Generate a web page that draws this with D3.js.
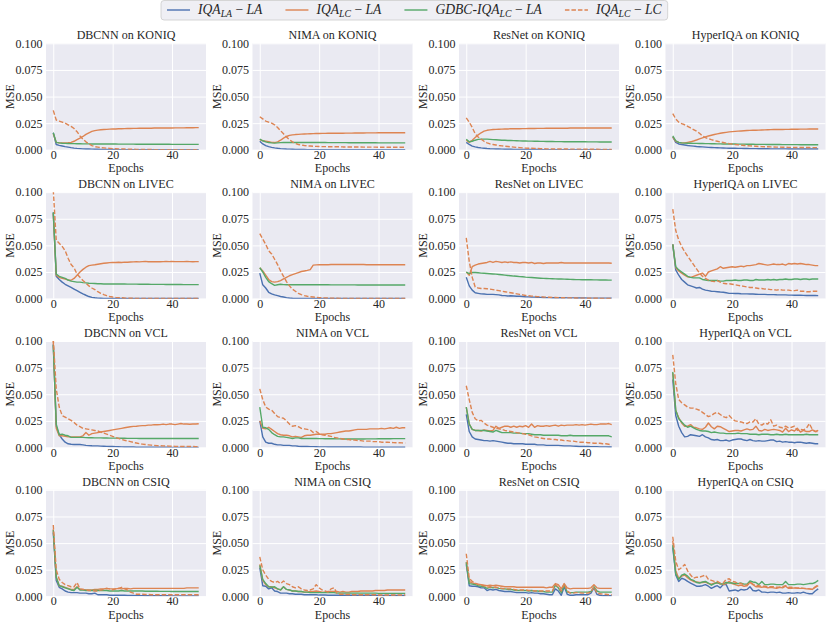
<!DOCTYPE html>
<html>
<head>
<meta charset="utf-8">
<script src="https://cdn.jsdelivr.net/npm/d3@7"></script>
<style>
    body { margin: 0; background: #fff; }
    svg text { font-family: "Liberation Serif", "DejaVu Serif", serif; fill: #262626; }
</style>
</head>
<body>
<svg id="chart" width="831" height="627"></svg>
<script>
// MSE values are kept in units of 1e-3, epochs 0..49
const MSE_UNIT = 0.001;

const models = ['DBCNN', 'NIMA', 'ResNet', 'HyperIQA'];
const datasets = ['KONIQ', 'LIVEC', 'VCL', 'CSIQ'];
const epochs = d3.range(50);
const xTicks = [0, 20, 40];
const yTicks = [0, 0.025, 0.05, 0.075, 0.1];

// ---- KONIQ
const dbcnn_koniq_la = [16,5,4.2,3.6,3,2.5,2,1.6,1.3,1.1, 0.9,0.8,0.7,0.6,0.5,0.45,0.4,0.35,0.3,0.3, 0.25,0.25,0.2,0.2,0.2,0.2,0.15,0.15,0.15,0.15, 0.1,0.1,0.1,0.1,0.1,0.1,0.1,0.1,0.1,0.1, 0.1,0.1,0.1,0.1,0.1,0.1,0.1,0.1,0.1,0.1];
const dbcnn_koniq_lc = [15,7,6.6,6.5,6.5,6.6,7,8,9.5,11, 12.5,14.5,16,17.3,18,18.5,18.8,19,19.2,19.4, 19.5,19.6,19.7,19.8,19.9,20,20,20.1,20.1,20.2, 20.2,20.3,20.3,20.3,20.4,20.4,20.4,20.5,20.5,20.5, 20.5,20.6,20.6,20.6,20.6,20.7,20.7,20.7,20.8,20.8];
const dbcnn_koniq_gd = [16,7,6.5,6.2,6,5.9,5.8,5.8,5.7,5.7, 5.6,5.6,5.6,5.5,5.5,5.5,5.5,5.4,5.4,5.4, 5.4,5.4,5.3,5.3,5.3,5.3,5.3,5.3,5.2,5.2, 5.2,5.2,5.2,5.2,5.2,5.2,5.2,5.2,5.2,5.2, 5.1,5.1,5.1,5.1,5.1,5.1,5.1,5.1,5.1,5.1];
const dbcnn_koniq_lclc = [37,28,27,26,25,23.5,22,20,17,13, 10,7.5,5.5,4,3,2.5,2,1.8,1.5,1.3, 1.1,1,0.9,0.8,0.7,0.6,0.5,0.5,0.4,0.4, 0.3,0.3,0.3,0.3,0.2,0.2,0.2,0.2,0.2,0.2, 0.1,0.1,0.1,0.1,0.1,0.1,0.1,0.1,0.1,0.1];

const nima_koniq_la = [8,5.5,4,3,2.3,1.8,1.4,1.1,0.9,0.7, 0.6,0.5,0.4,0.35,0.3,0.25,0.2,0.2,0.2,0.15, 0.15,0.15,0.1,0.1,0.1,0.1,0.1,0.1,0.1,0.1, 0.1,0.1,0.1,0.1,0.1,0.1,0.1,0.1,0.1,0.1, 0.1,0.1,0.1,0.1,0.1,0.1,0.1,0.1,0.1,0.1];
const nima_koniq_lc = [9.5,8.5,8,7.5,7,6.8,7.5,9,11,12.5, 13.5,14,14.3,14.5,14.7,14.9,15,15.1,15.2,15.3, 15.3,15.4,15.4,15.5,15.5,15.5,15.6,15.6,15.6,15.7, 15.7,15.7,15.8,15.8,15.8,15.8,15.9,15.9,15.9,15.9, 16,16,16,16,16,16,16,16,16,16];
const nima_koniq_gd = [10,8.5,7.5,6.8,6.5,6.3,6.5,6.7,6.8,6.9, 6.9,6.9,6.9,6.9,6.9,6.8,6.8,6.8,6.8,6.8, 6.8,6.8,6.8,6.7,6.7,6.7,6.7,6.7,6.7,6.7, 6.6,6.6,6.6,6.6,6.6,6.6,6.6,6.6,6.6,6.6, 6.5,6.5,6.5,6.5,6.5,6.5,6.5,6.5,6.5,6.5];
const nima_koniq_lclc = [31,29,27,26,25,23.5,21,18,15,12, 9.5,7.5,6,5,4.5,4,3.7,3.5,3.3,3.2, 3.1,3,3,2.9,2.9,2.8,2.8,2.8,2.7,2.7, 2.7,2.6,2.6,2.6,2.6,2.5,2.5,2.5,2.5,2.5, 2.4,2.4,2.4,2.4,2.4,2.4,2.4,2.4,2.4,2.4];

const resnet_koniq_la = [7,5,3.5,2.8,2.2,1.8,1.5,1.2,1,0.9, 0.8,0.7,0.6,0.55,0.5,0.45,0.4,0.4,0.35,0.35, 0.3,0.3,0.3,0.25,0.25,0.25,0.2,0.2,0.2,0.2, 0.2,0.15,0.15,0.15,0.15,0.15,0.15,0.1,0.1,0.1, 0.1,0.1,0.1,0.1,0.1,0.1,0.1,0.1,0.1,0.1];
const resnet_koniq_lc = [9,7,9,11.5,14,16,17.5,18.3,18.7,19, 19.2,19.3,19.4,19.5,19.6,19.7,19.7,19.8,19.8,19.9, 19.9,20,20,20,20.1,20.1,20.1,20.2,20.2,20.2, 20.2,20.3,20.3,20.3,20.3,20.4,20.4,20.4,20.4,20.4, 20.5,20.5,20.5,20.5,20.5,20.5,20.5,20.5,20.5,20.5];
const resnet_koniq_gd = [10,7.5,8,9,9.8,10,10,10,9.8,9.6, 9.4,9.2,9,8.9,8.8,8.7,8.6,8.5,8.4,8.3, 8.2,8.1,8.1,8,8,7.9,7.9,7.8,7.8,7.8, 7.7,7.7,7.7,7.6,7.6,7.6,7.6,7.5,7.5,7.5, 7.5,7.4,7.4,7.4,7.4,7.3,7.3,7.3,7.3,7.3];
const resnet_koniq_lclc = [30,26,21,15,12,10,8,6.5,5.5,5, 4.5,4,3.7,3.4,3.1,2.8,2.5,2.2,2,1.8, 1.6,1.5,1.4,1.3,1.2,1.1,1,0.9,0.8,0.8, 0.7,0.7,0.7,0.7,0.7,0.6,0.6,0.6,0.6,0.6, 0.5,0.5,0.5,0.5,0.5,0.4,0.4,0.4,0.4,0.4];

const hyper_koniq_la = [12,7,5.5,5,4.5,4,3.7,3.4,3.1,2.9, 2.7,2.5,2.3,2.2,2,1.9,1.8,1.7,1.6,1.5, 1.4,1.4,1.3,1.3,1.2,1.2,1.1,1.1,1.1,1, 1,1,1,0.9,0.9,0.9,0.9,0.9,0.9,0.8, 0.8,0.8,0.8,0.8,0.8,0.8,0.8,0.8,0.8,0.8];
const hyper_koniq_lc = [12,8,7,6.5,6.5,7,7.5,8.3,9.2,10.2, 11.2,12.1,13,13.7,14.4,15,15.5,16,16.4,16.8, 17.1,17.3,17.5,17.7,17.9,18.1,18.2,18.3,18.4,18.5, 18.6,18.7,18.8,18.9,19,19,19.1,19.1,19.2,19.2, 19.3,19.3,19.3,19.4,19.4,19.4,19.5,19.5,19.5,19.5];
const hyper_koniq_gd = [13,8.5,7,6.5,6.3,6.2,6.1,6,6,5.9, 5.9,5.8,5.8,5.7,5.7,5.6,5.6,5.5,5.5,5.4, 5.4,5.4,5.3,5.3,5.3,5.2,5.2,5.2,5.1,5.1, 5.1,5.1,5,5,5,5,5,4.9,4.9,4.9, 4.9,4.9,4.9,4.8,4.8,4.8,4.8,4.8,4.8,4.8];
const hyper_koniq_lclc = [34,29,26,24.5,23.5,22,20.5,19,17.5,15.5, 13,11.5,10.5,9.5,8.7,8,7.3,6.8,6.3,5.8, 5.4,5,4.7,4.4,4.1,3.9,3.7,3.5,3.3,3.1, 3,2.9,2.8,2.7,2.6,2.5,2.5,2.4,2.4,2.3, 2.3,2.2,2.2,2.2,2.1,2.1,2.1,2,2,2];

// ---- LIVEC
const dbcnn_livec_la = [81,21,18,15.5,13.5,12,10.5,9,7.5,6, 4.5,3.2,2,1.2,0.8,0.5,0.4,0.3,0.3,0.2, 0.2,0.2,0.2,0.15,0.15,0.15,0.15,0.1,0.1,0.1, 0.1,0.1,0.1,0.1,0.1,0.1,0.1,0.1,0.1,0.1, 0.1,0.1,0.1,0.1,0.1,0.1,0.1,0.1,0.1,0.1];
const dbcnn_livec_lc = [80,22,20,19,18.5,17.5,17.3,19,22,25, 27.5,29.5,31,31.5,31.8,32.3,32.8,33.2,33.5,33.8, 34,34,34.2,34,34.3,34.2,34.4,34.5,34.8,34.5, 34.8,35,34.7,34.8,34.6,34.8,34.7,34.8,34.9,34.8, 34.9,34.8,34.8,34.8,34.8,34.9,34.8,34.7,34.8,34.8];
const dbcnn_livec_gd = [81,23,21,20,19,17.5,16.5,16,15.5,15.5, 15,14.8,14.5,14.3,14.2,14,14,13.8,13.9,13.8, 13.8,13.8,13.7,13.7,13.7,13.6,13.6,13.6,13.6,13.5, 13.5,13.5,13.5,13.4,13.4,13.4,13.4,13.4,13.3,13.3, 13.3,13.3,13.3,13.3,13.2,13.2,13.2,13.2,13.2,13.2];
const dbcnn_livec_lclc = [102,55,52,49,45,38,32,29,23,20, 17,14.5,12,10,8.5,6.5,5,3.8,2.8,2, 1.5,1.2,1,0.8,0.6,0.5,0.4,0.3,0.3,0.2, 0.2,0.2,0.2,0.2,0.2,0.15,0.15,0.15,0.15,0.15, 0.1,0.1,0.1,0.1,0.1,0.1,0.1,0.1,0.1,0.1];

const nima_livec_la = [24,13,10,6,4.5,3.5,2.8,2,1.5,1, 0.6,0.4,0.3,0.2,0.2,0.15,0.15,0.1,0.1,0.1, 0.1,0.1,0.1,0.1,0.1,0.1,0.1,0.1,0.1,0.1, 0.1,0.1,0.1,0.1,0.1,0.1,0.1,0.1,0.1,0.1, 0.1,0.1,0.1,0.1,0.1,0.1,0.1,0.1,0.1,0.1];
const nima_livec_lc = [29,26,22,18,16,15.5,16,17,18.5,20, 21.5,22.5,23.5,24.5,25.5,26,26.5,27.3,31.5,31.7, 31.8,31.8,31.9,31.9,32,32,32,32,32.1,32.1, 32.1,32.1,32,32,32,32,31.9,31.9,31.9,31.9, 31.9,31.8,31.8,31.8,31.8,31.8,31.8,31.8,31.8,31.8];
const nima_livec_gd = [29,25,20,16,14,12.5,13,13.5,13.2,13, 13,13,13,13,13,13,13,13,13,13, 13,13,13,13,12.9,12.9,12.9,12.9,12.9,12.9, 12.9,12.9,12.9,12.8,12.8,12.8,12.8,12.8,12.8,12.8, 12.8,12.8,12.8,12.8,12.8,12.8,12.8,12.8,12.8,12.8];
const nima_livec_lclc = [61,56,51,45,42,37,32,26,21,16, 12,9,7,5,3.8,2.8,2.2,1.8,1.5,1.2, 1,0.8,0.7,0.6,0.5,0.4,0.4,0.3,0.3,0.3, 0.2,0.2,0.2,0.2,0.2,0.2,0.2,0.2,0.2,0.2, 0.1,0.1,0.1,0.1,0.1,0.1,0.1,0.1,0.1,0.1];

const resnet_livec_la = [20,12,8,5.5,5,4.5,4.3,4,4,4, 3.8,3.5,3,2.8,2.5,2.7,2.5,2.3,2.2,2, 1.8,1.7,1.5,1.4,1.3,1.2,1.1,1,1,0.9, 0.9,0.8,0.8,0.8,0.7,0.7,0.7,0.6,0.6,0.6, 0.6,0.5,0.5,0.5,0.5,0.5,0.5,0.5,0.5,0.5];
const resnet_livec_lc = [25,22,30,31.5,32.5,33,33.5,34,35,34, 35,34.5,34,34.5,34,34.5,34,34,33.5,34, 34,33.5,34,33,33.5,33.5,33,33.5,33.5,33.5, 33.5,33.5,34,33.5,33.5,33.5,33.5,33.5,33.5,33.5, 33.5,33.5,33.5,33.5,33.5,33.5,33.5,33.5,33.5,33.3];
const resnet_livec_gd = [25,23.5,24.5,24.5,24.3,24,23.8,23.6,23.4,23.2, 23,22.7,22.4,22.1,21.8,21.5,21.2,21,20.7,20.5, 20.2,20,19.8,19.6,19.4,19.2,19,18.9,18.8,18.7, 18.6,18.5,18.4,18.3,18.2,18.1,18,17.9,17.9,17.8, 17.8,17.7,17.7,17.6,17.6,17.5,17.5,17.5,17.4,17.4];
const resnet_livec_lclc = [57,35,20,11,10,9.5,9.5,9.3,9,8.5, 8,7.5,7,6.5,6,5.5,5,4.5,4,3.5, 3,2.7,2.4,2.1,1.9,1.7,1.5,1.4,1.3,1.2, 1.1,1,0.9,0.8,0.7,0.7,0.6,0.6,0.5,0.5, 0.5,0.4,0.4,0.4,0.4,0.3,0.3,0.3,0.3,0.3];

const hyper_livec_la = [51,27,22,18,15.5,13,12,11,10,10.5, 9,8,7.5,7,6.8,6.5,6.2,6,5.5,5, 5,4.8,4.8,4.6,4.5,4.5,4.3,4.3,4.2,4, 4,4,3.8,3.8,3.8,3.6,3.5,3.5,3.5,3.3, 3.3,3.2,3.2,3.2,3.1,3,3,2.9,2.9,2.8];
const hyper_livec_lc = [51,29,26,24,22,20.5,20,21,22,23, 24,21,25,26,27,28,30,28.5,29,29.5, 30,29.5,30,30.5,30,31,31,31.5,32,33, 32.5,32,31.5,32,32.5,32,32,32.5,31.5,33, 32.5,33,32.5,33,32.5,32,32,31.5,31,31];
const hyper_livec_gd = [51,30,27,25,23,21,20,19.5,19.5,19.5, 18,17.5,17,17,17,17,16.5,16.5,17,17, 17,17.5,17,17,17.5,17.5,17,17,18,17.5, 17.5,17.5,18,17.5,18,17.5,18,18,18.5,18, 18,18.5,18.5,18,18.5,18.5,18,18.5,18.5,18.5];
const hyper_livec_lclc = [84,64,55,49,44,40,36,32,28,24, 21,19,17.5,16.5,16,17,15.5,14.5,14,14, 13.5,13,12.5,12,11.5,11,10.5,10.5,10,9.5, 9.5,9,9,8.5,8.5,8,8.5,8,8,8, 7.5,7.5,8,7,7,6.5,6.5,7,7,7];

// ---- VCL
const dbcnn_vcl_la = [97,20,12,8,5,3.5,3,2.8,2.8,2.8, 2.5,2,1.8,1.6,1.5,1.5,1.3,1.2,1.1,1, 0.9,0.8,0.7,0.6,0.5,0.5,0.4,0.4,0.3,0.3, 0.3,0.2,0.2,0.2,0.2,0.2,0.2,0.2,0.2,0.2, 0.1,0.1,0.1,0.1,0.1,0.1,0.1,0.1,0.1,0.1];
const dbcnn_vcl_lc = [100,18,11,11,10.5,10,10,10,10,10, 11,14,11.5,13,13.5,14,14.5,15,15.5,16, 16.5,17,17.5,18,18.5,19,19.5,19.8,20,20.3, 20.5,20.5,21,21,21.5,21.3,21.5,22,21.5,22, 22,21.5,22,22.5,22,22,21.8,22,22,22.3];
const dbcnn_vcl_gd = [96,22,12,12.5,11.5,11,9.5,9.5,9.5,9.5, 9.5,9.3,9.2,9.2,9,9,9,8.9,8.9,8.8, 8.8,8.8,8.7,8.7,8.7,8.6,8.6,8.6,8.6,8.5, 8.5,8.5,8.5,8.5,8.5,8.5,8.5,8.5,8.5,8.5, 8.5,8.5,8.5,8.5,8.5,8.5,8.5,8.5,8.5,8.5];
const dbcnn_vcl_lclc = [102,55,38,30,28.5,27,25.5,23.5,21,19.5, 18,17.5,17,16.5,16,15.5,14.5,13.5,12.5,11.5, 10.5,9.5,8.5,7.5,6.8,6.2,5.5,4.8,4.2,3.6, 3.2,2.8,2.5,2.2,2,1.8,1.6,1.5,1.4,1.3, 1.2,1.1,1.1,1,1,0.9,0.9,0.9,0.8,0.8];

const nima_vcl_la = [25,10,5,4,4,3,2.5,2.5,2,2, 2,1.5,1.5,1.2,1,1,1,0.8,0.8,0.7, 0.6,0.6,0.6,0.5,0.5,0.5,0.5,0.5,0.4,0.4, 0.4,0.4,0.4,0.4,0.4,0.3,0.3,0.3,0.3,0.3, 0.3,0.3,0.3,0.3,0.3,0.3,0.3,0.3,0.3,0.3];
const nima_vcl_lc = [25,18,17.5,19,17,15,13,12,11.5,11.5, 11,10,10.5,10,9.5,11,11.5,11.5,12,12.5, 12.5,12.5,12.5,13,13,13.5,14,14.5,15,15.5, 15.5,16,16.5,17,17,17,17,17.5,17.5,17.5, 17.5,18,17.5,18,18.5,18,19,18,18.5,18.5];
const nima_vcl_gd = [38,19,18.5,17,14,12,10.5,10,10,9.5, 9,8.5,9,9,8.5,8.5,8.5,8.5,8.5,8.5, 8.3,8.3,8.2,8.2,8.2,8.2,8.1,8.1,8,8, 8,8,8,8,8,8,8.1,8.1,8.1,8.1, 8.2,8.2,8.2,8.2,8.2,8.3,8.3,8.3,8.3,8.3];
const nima_vcl_lclc = [55,45,38,36,35,32,29,28,27.5,25, 22,20,20.5,19.5,18,17.5,17,16.5,14,15, 13,12,11.5,11,10.5,9.5,9,8.5,8,7.5, 7.5,7,7,6.5,6.5,6,6,6,5.5,5.5, 5.5,5,5,5,4.8,4.6,4.5,4.4,4.3,4.2];

const resnet_vcl_la = [31,15,10,8,7.5,7,6.5,6.5,6,6.5, 6,5.5,5,4.5,4,4,3.5,3.5,3.5,3.5, 3,3,3,3,2.5,2.5,2.5,2,2,2, 2,2,1.8,1.5,1.5,1.5,1.3,1.2,1,1, 1,1,0.8,0.8,0.8,0.6,0.6,0.6,0.5,0.5];
const resnet_vcl_lc = [38,22,17,16,16,15.5,16.5,16,15.5,16, 20,18,19,20,20,19,20,19,20,19.5, 20.5,19,22,19,20.5,20,20,20.5,20,20.5, 21,20,21,20.5,21,21,21,21.5,21,21.5, 21,21.5,22,21.5,21.5,22,22,22,22.5,21.5];
const resnet_vcl_gd = [38,22,17,16,16,16,16,15.5,15,14.5, 16,15,14,14,14,14,13.5,13.5,13.5,13, 13,13,12.5,12,12,12,11.5,11.5,11.5,11.5, 11.5,11.5,11,11,11,11.5,11,11,11,11, 11,11,11,11,11,11,11,11,11,10];
const resnet_vcl_lclc = [58,45,33,27,25,25.5,23,21,20,19, 18,17.5,17,16,15.5,15,14.5,14,13.5,13, 12.5,12,11,10,9.5,9,8.5,8,8,7.5, 7.5,7,7,6.5,6.5,6,6,5.5,5,5, 5,4.5,4.5,4,4,4,3.5,3.5,3,2.5];

const hyper_vcl_la = [64,30,20,14,10,10.5,12,11.5,11,10.5, 12,10,9,7.5,7,7.5,6.5,6.5,7,6, 7,7.5,8,8,7,6.5,7.5,6.5,6,6.5, 6,6,6.5,7,7,5.5,6,5,5.5,5, 5,4.5,5,5,4.5,4,4.5,4,3.5,3.5];
const hyper_vcl_lc = [70,35,28,23,20,20,21.5,19,18.5,17.5, 17,19,23,19.5,17.5,20,19.5,18,16.5,15, 15.5,16,16,15.5,16.5,17.5,16.5,17,20,16, 15.5,17,16,16.5,17,16.5,16,14.5,18,15, 16.5,15.5,18,14.5,16,15,15,16.5,15,16];
const hyper_vcl_gd = [71,35,27,24,21,19,20,18.5,17,16, 15.5,15.5,15,14,14.5,14,13.5,13.5,13,13, 13,13,13.5,13,13,13,12.5,12.5,12.5,12, 12.5,12.5,12.5,12,12,12.5,12,12,12.5,12, 12,12,12,12,12,12.5,12,12,12,12];
const hyper_vcl_lclc = [87,60,45,42,40,38,37,37,36,35, 33,31,29,30,32,33,31,29,28,30, 27,25,24.5,24,23,22.5,24,24,27,22, 21,23,22,26,20,21,19,18.5,20,18.5, 19,20,16,17,16.5,18,22.5,17,15,15];

// ---- CSIQ
const dbcnn_csiq_la = [60,15,8.5,7,5,4,3.5,3.5,3.5,3, 3,3,2.5,2.5,3,1.5,1.5,1.5,1.5,1, 1,1,1,1,1,0.8,0.8,0.8,0.7,0.7, 0.7,0.6,0.6,0.6,0.5,0.5,0.5,0.5,0.5,0.5, 0.4,0.4,0.4,0.4,0.4,0.4,0.4,0.4,0.4,0.4];
const dbcnn_csiq_lc = [63,18,10,9.5,8.5,7.5,6.5,6.5,9,6.5, 6.5,6,6,6,6.5,6.5,7,7,7.5,7, 7,7,7.5,7,7.5,7.5,7,7.5,7.5,7.5, 7.5,7.5,7.5,7.5,7.5,7.5,7.5,7.5,7.5,7.5, 7.5,7.5,7.5,7.5,7.5,8,8,8,8,8];
const dbcnn_csiq_gd = [62,18,10,9,8,7,6,5.5,8.5,6, 6,5.5,5.5,5.5,5.5,5.5,5.5,5.5,5.5,5, 5,5,5,5.5,5,5,5,5,5,5, 5,4.8,4.8,4.8,4.8,4.8,4.7,4.7,4.7,4.7, 4.6,4.6,4.6,4.6,4.6,4.5,4.5,4.5,4.5,4.5];
const dbcnn_csiq_lclc = [67,25,16,13,11,10,9,9,13,7, 6.5,6,5.5,5.5,5,5,6,6.5,7.5,7, 6,7,7.5,8.5,7,6,4,3,2,2, 2,1.8,1.8,1.5,1.5,1.5,1.5,1.5,1.5,1.5, 1.5,1.5,1.5,1.5,1.5,1.5,1.5,1.5,1.5,1.5];

const nima_csiq_la = [27,10,9.5,7,8,5,4.5,3,3,3, 2.5,2.5,2,2,2,1.5,1.5,1.5,1.5,1.5, 1.2,1.2,1.2,1,1,1,1,1,1,1, 1,1,1,1,1,1,1,1,1,1, 0.8,0.8,0.8,0.8,0.8,0.8,0.8,0.8,0.8,0.8];
const nima_csiq_lc = [30,15,11,9,9,8,7,6,9,6.5, 6,5,5,4.5,4.5,4,4,4.5,4.5,5, 4.5,4,4,4.5,4.5,4.5,4.5,4,4.5,4, 4,4.5,4.5,4.5,5,5,5,5,5,5.5, 5.5,5.5,5.5,6,6,6,6,6,6,6];
const nima_csiq_gd = [29,16,12,9,8.5,9,7,6,9,6.5, 6,5,5,4.5,4.5,4,4,3.5,3.5,3.5, 3.5,3.5,3.5,3.5,3.5,3.5,3,3,3,3, 3,3,3,3,3,3,3,3,3,3, 2.8,2.8,2.8,2.8,2.8,2.8,2.8,2.8,2.8,2.8];
const nima_csiq_lclc = [37,25,20,16,14,13,14,12,14.5,12, 11,9,8,9,7,6,5.5,6,7,11, 8,6,5,4,7,8,3,2,2,1.8, 1.8,1.5,1.5,1.5,1.5,1.5,1.5,1.5,1.5,1.5, 1.3,1.3,1.3,1.3,1.3,1.3,1.3,1.3,1.3,1.3];

const resnet_csiq_la = [30,10,9.5,9.5,9,8,8,5.5,6.5,6, 6.5,5.5,5,4.5,4.5,4.5,4,3.5,3.5,3.5, 3.5,3,3.5,3,3,2.5,2.5,2,1.5,1.5, 7,5,1,9,2,1,1,1.5,1.5,1.5, 1.5,1.5,3,8,2,1,0.5,0.5,0.5,0.5];
const resnet_csiq_lc = [32,14,12.5,12,11.5,11,10.5,10,10.5,10, 10.5,10,9.5,9,9,9,9,8.5,8.5,8.5, 8.5,8.5,8.5,8.5,8.5,8.5,8.5,8,8.5,8.5, 12,11,7,12,8,7,7.5,7.5,7.5,7.5, 7.5,7.5,8,11,8,7.5,7.5,7.5,7.5,7.5];
const resnet_csiq_gd = [32,12,11.5,11,10,9.5,9,7.5,8.5,8, 8.5,7.5,7,7,6.5,6.5,6,5.5,5.5,5.5, 5.5,5,5.5,5,5,4.5,4.5,4,4,4, 10.5,8,3.5,10.5,4,3.5,3.5,4,4,4, 4,4,4.5,9,5,4,4,4,4,4];
const resnet_csiq_lclc = [40,17,14,12.5,11,10.5,10,8.5,9,8.5, 8.5,8,7.5,7,7,7,6.5,6,6,6, 6,5.5,5.5,5,5,5,5,5,5,5, 11,9,5,12,5,3,3,3.5,3.5,3, 3,3,4,9,3,2.5,2,2,1.5,1.5];

const hyper_csiq_la = [46,20,14,17,16,14,12.5,11,9.5,9.5, 10,11,9.5,7.5,9,10,8,11,11,5, 5.5,6,5,6.5,6,6.5,9,5.5,5,6, 4,4,3.5,4,4,3.5,4,3,3,3.5, 3,3,3.5,3,4,3,2.5,2.5,5,7];
const hyper_csiq_lc = [52,24,17,19,20,17.5,15.5,14,13.5,13, 13,13.5,12,11.5,12.5,12.5,12,11,12,14, 12,11,10,10.5,9.5,10,13.5,11,9,9, 8.5,9,8,8.5,8,7.5,8.5,8,9.5,7.5, 7.5,8,7.5,7.5,7.5,7,7,6.5,8.5,10];
const hyper_csiq_gd = [48,21,16,20,21,19,16,15,13,12.5, 13.5,14,12.5,10.5,12,13,11.5,12,13,12.5, 12.5,12,12,12.5,11.5,11.5,14.5,13.5,13,11, 14,11,11,11.5,11.5,11,11,11,14,11, 11,11,11.5,11.5,11,11.5,12,12,13,15];
const hyper_csiq_lclc = [56,33,25,27,30,24,20,17,18,18, 19,20,16,15,14,14,12.5,12.5,16,16.5, 14,13.5,12,12,11,10.5,13,11.5,10.5,10, 9.5,9.5,9,9,9,8.5,8.5,9,10,8.5, 8.5,8,8,8,7.5,7.5,7,6.5,9,11];

// runs per panel, in legend order: IQA_LA-LA, IQA_LC-LA, GDBC-IQA_LC-LA, IQA_LC-LC
const runs = {
    DBCNN_KONIQ: [dbcnn_koniq_la, dbcnn_koniq_lc, dbcnn_koniq_gd, dbcnn_koniq_lclc],
    NIMA_KONIQ: [nima_koniq_la, nima_koniq_lc, nima_koniq_gd, nima_koniq_lclc],
    ResNet_KONIQ: [resnet_koniq_la, resnet_koniq_lc, resnet_koniq_gd, resnet_koniq_lclc],
    HyperIQA_KONIQ: [hyper_koniq_la, hyper_koniq_lc, hyper_koniq_gd, hyper_koniq_lclc],
    DBCNN_LIVEC: [dbcnn_livec_la, dbcnn_livec_lc, dbcnn_livec_gd, dbcnn_livec_lclc],
    NIMA_LIVEC: [nima_livec_la, nima_livec_lc, nima_livec_gd, nima_livec_lclc],
    ResNet_LIVEC: [resnet_livec_la, resnet_livec_lc, resnet_livec_gd, resnet_livec_lclc],
    HyperIQA_LIVEC: [hyper_livec_la, hyper_livec_lc, hyper_livec_gd, hyper_livec_lclc],
    DBCNN_VCL: [dbcnn_vcl_la, dbcnn_vcl_lc, dbcnn_vcl_gd, dbcnn_vcl_lclc],
    NIMA_VCL: [nima_vcl_la, nima_vcl_lc, nima_vcl_gd, nima_vcl_lclc],
    ResNet_VCL: [resnet_vcl_la, resnet_vcl_lc, resnet_vcl_gd, resnet_vcl_lclc],
    HyperIQA_VCL: [hyper_vcl_la, hyper_vcl_lc, hyper_vcl_gd, hyper_vcl_lclc],
    DBCNN_CSIQ: [dbcnn_csiq_la, dbcnn_csiq_lc, dbcnn_csiq_gd, dbcnn_csiq_lclc],
    NIMA_CSIQ: [nima_csiq_la, nima_csiq_lc, nima_csiq_gd, nima_csiq_lclc],
    ResNet_CSIQ: [resnet_csiq_la, resnet_csiq_lc, resnet_csiq_gd, resnet_csiq_lclc],
    HyperIQA_CSIQ: [hyper_csiq_la, hyper_csiq_lc, hyper_csiq_gd, hyper_csiq_lclc]
};

// legend labels as (text, kind) pieces; math-italic except the minus sign
const seriesLabels = [
    [['IQA'], ['LA', 'sub'], [' \u2212 ', 'up'], ['LA']],
    [['IQA'], ['LC', 'sub'], [' \u2212 ', 'up'], ['LA']],
    [['GDBC-IQA'], ['LC', 'sub'], [' \u2212 ', 'up'], ['LA']],
    [['IQA'], ['LC', 'sub'], [' \u2212 ', 'up'], ['LC']]
];
const seriesColors = ['#4C72B0', '#DD8452', '#55A868', '#DD8452'];
const seriesDash = [null, null, null, '4.5,2'];

// ---------------------------------------------------------------
const svg = d3.select('#chart');
const origin = { left: 46, top: 43.3 };
const step = { x: 206.5, y: 148.85 };
const pw = 160;
const ph = 106.5;

const x = d3.scaleLinear().domain([-2.45, 51.45]).range([0, pw]);
const y = d3.scaleLinear().domain([0, 0.1]).range([ph, 0]);

const line = d3
    .line()
    .x((d, i) => x(epochs[i]))
    .y((d) => y(d * MSE_UNIT));

const styleAxis = (g) => {
    g.attr('font-family', null).attr('font-size', null);
    g.select('.domain').remove();
    g.selectAll('.tick line').attr('stroke', '#fff').attr('stroke-width', 1);
    g.selectAll('.tick text').attr('fill', '#262626').style('font-size', '12px');
};

datasets.forEach((ds, r) => {
    models.forEach((m, c) => {
        const g = svg
            .append('g')
            .attr('transform', `translate(${origin.left + c * step.x},${origin.top + r * step.y})`);

        g.append('rect').attr('width', pw).attr('height', ph).attr('fill', '#EAEAF2');

        g.append('clipPath')
            .attr('id', `clip-${r}-${c}`)
            .append('rect')
            .attr('width', pw)
            .attr('height', ph);

        g.append('g')
            .attr('class', 'axis axis-x')
            .attr('transform', `translate(0,${ph})`)
            .call(d3.axisBottom(x).tickValues(xTicks).tickSize(-ph).tickPadding(0.5))
            .call(styleAxis);

        g.append('g')
            .attr('class', 'axis axis-y')
            .call(
                d3.axisLeft(y)
                    .tickValues(yTicks)
                    .tickFormat(d3.format('.3f'))
                    .tickSize(-pw)
                    .tickPadding(3.5)
            )
            .call(styleAxis);

        g.append('g')
            .attr('clip-path', `url(#clip-${r}-${c})`)
            .selectAll('path')
            .data(runs[`${m}_${ds}`])
            .enter()
            .append('path')
            .attr('d', line)
            .attr('fill', 'none')
            .attr('stroke', (d, i) => seriesColors[i])
            .attr('stroke-dasharray', (d, i) => seriesDash[i])
            .attr('stroke-width', 1.4)
            .attr('stroke-linejoin', 'round');

        g.append('text')
            .attr('x', pw / 2)
            .attr('y', -4)
            .attr('text-anchor', 'middle')
            .style('font-size', '12px')
            .text(`${m} on ${ds}`);

        g.append('text')
            .attr('x', pw / 2)
            .attr('y', ph + 22.5)
            .attr('text-anchor', 'middle')
            .style('font-size', '12px')
            .text('Epochs');

        g.append('text')
            .attr('transform', `translate(-32,${ph / 2}) rotate(-90)`)
            .attr('text-anchor', 'middle')
            .style('font-size', '12px')
            .text('MSE');
    });
});

// legend
const legend = svg.append('g').attr('class', 'legend');
const legendBox = legend.append('rect');
let lx = 167;
const ly = 10;
seriesLabels.forEach((parts, i) => {
    legend.append('line')
        .attr('x1', lx).attr('x2', lx + 23)
        .attr('y1', ly).attr('y2', ly)
        .attr('stroke', seriesColors[i])
        .attr('stroke-width', 1.4)
        .attr('stroke-dasharray', seriesDash[i]);

    const t = legend.append('text')
        .attr('x', lx + 31)
        .attr('y', ly + 4)
        .style('font-size', '13.6px');

    let shifted = false;
    parts.forEach(([txt, kind]) => {
        const ts = t.append('tspan').text(txt);
        if (kind === 'sub') {
            ts.attr('dy', 3).style('font-size', '9.8px').style('font-style', 'italic');
            shifted = true;
        } else {
            if (shifted) { ts.attr('dy', -3); shifted = false; }
            ts.style('font-style', kind === 'up' ? 'normal' : 'italic');
        }
    });

    lx += 31 + t.node().getComputedTextLength() + 23;
});
legendBox
    .attr('x', 161)
    .attr('y', 0.5)
    .attr('width', lx - 23 + 6 - 161)
    .attr('height', 19.5)
    .attr('rx', 3)
    .attr('fill', '#EFEFF4')
    .attr('stroke', '#cccccc')
    .attr('stroke-width', 0.8);
</script>
</body>
</html>
